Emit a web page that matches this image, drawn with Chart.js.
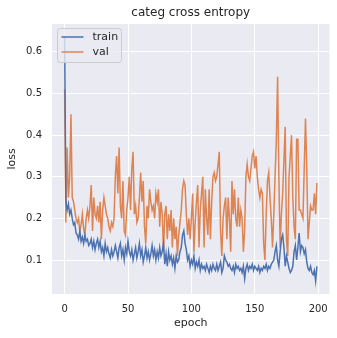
<!DOCTYPE html>
<html>
<head>
<meta charset="utf-8">
<script src="https://cdn.jsdelivr.net/npm/chart.js@4/dist/chart.umd.min.js"></script>
<style>
  body { margin: 0; background: #ffffff; }
</style>
</head>
<body>
<canvas id="lossChart" width="337" height="338"></canvas>
<script>
// epochs 0..199
var epochs = [];
for (var i = 0; i < 200; i++) epochs.push(i);

var xTicks = [0, 50, 100, 150, 200];
var yTicks = [0.1, 0.2, 0.3, 0.4, 0.5, 0.6];
var titleText = "categ cross entropy";

var train = [
  0.637, 0.24, 0.22, 0.235, 0.21, 0.22, 0.2, 0.185, 0.19, 0.165,
  0.16, 0.15, 0.17, 0.145, 0.155, 0.14, 0.16, 0.145, 0.15, 0.135,
  0.14, 0.15, 0.13, 0.145, 0.125, 0.14, 0.15, 0.13, 0.145, 0.12,
  0.13, 0.11, 0.14, 0.12, 0.13, 0.115, 0.105, 0.125, 0.11, 0.12,
  0.135, 0.12, 0.105, 0.13, 0.14, 0.11, 0.125, 0.1, 0.13, 0.115,
  0.145, 0.12, 0.11, 0.125, 0.1, 0.115, 0.13, 0.105, 0.12, 0.14,
  0.11, 0.125, 0.095, 0.11, 0.13, 0.105, 0.12, 0.1, 0.115, 0.135,
  0.11, 0.125, 0.1, 0.12, 0.105, 0.13, 0.11, 0.12, 0.14, 0.09,
  0.115, 0.085, 0.12, 0.1, 0.11, 0.09, 0.105, 0.08, 0.11, 0.095,
  0.1, 0.12, 0.13, 0.16, 0.17, 0.14, 0.125, 0.1, 0.11, 0.085,
  0.1, 0.09, 0.11, 0.08, 0.095, 0.085, 0.1, 0.075, 0.09, 0.08,
  0.085, 0.075, 0.09, 0.08, 0.07, 0.085, 0.075, 0.09, 0.08, 0.075,
  0.09, 0.075, 0.085, 0.095, 0.07, 0.08, 0.11, 0.1, 0.095, 0.085,
  0.09, 0.08, 0.075, 0.085, 0.07, 0.09, 0.08, 0.085, 0.075, 0.08,
  0.07, 0.085, 0.055, 0.08, 0.09, 0.075, 0.085, 0.08, 0.09, 0.075,
  0.085, 0.08, 0.075, 0.085, 0.07, 0.08, 0.075, 0.085, 0.08, 0.09,
  0.075, 0.085, 0.08, 0.09, 0.095, 0.1, 0.12, 0.135, 0.1, 0.085,
  0.12, 0.15, 0.16, 0.13, 0.085, 0.11, 0.095, 0.08, 0.07, 0.075,
  0.085, 0.12, 0.135, 0.1, 0.13, 0.165, 0.12, 0.135, 0.13, 0.115,
  0.125, 0.095, 0.08, 0.075, 0.085, 0.07, 0.065, 0.075, 0.05, 0.085
];

var val = [
  0.51, 0.19, 0.37, 0.25, 0.3, 0.45, 0.25, 0.24, 0.22, 0.2,
  0.19, 0.2, 0.17, 0.185, 0.21, 0.175, 0.16, 0.2, 0.22, 0.2,
  0.23, 0.28, 0.17, 0.25, 0.21, 0.2, 0.23, 0.19, 0.24, 0.15,
  0.22, 0.25, 0.23, 0.21, 0.2, 0.18, 0.17, 0.19, 0.18, 0.2,
  0.3, 0.35, 0.26, 0.37, 0.23, 0.2, 0.29, 0.17, 0.16, 0.22,
  0.25, 0.3, 0.22, 0.32, 0.36, 0.21, 0.23, 0.19, 0.2, 0.25,
  0.31, 0.24, 0.29, 0.18, 0.14, 0.23, 0.2, 0.27, 0.24, 0.22,
  0.23, 0.2, 0.26, 0.24, 0.27, 0.18, 0.24, 0.21, 0.12, 0.21,
  0.23, 0.15, 0.21, 0.17, 0.22, 0.13, 0.2, 0.15, 0.18, 0.11,
  0.16, 0.19, 0.22, 0.27, 0.29, 0.28, 0.21, 0.16, 0.2, 0.15,
  0.2, 0.26, 0.12, 0.19, 0.24, 0.28, 0.13, 0.22, 0.26, 0.3,
  0.13, 0.27, 0.2, 0.16, 0.27, 0.15, 0.24, 0.3, 0.31, 0.29,
  0.3, 0.33, 0.36, 0.17, 0.11, 0.2, 0.23, 0.25, 0.15, 0.25,
  0.2, 0.12, 0.29, 0.21, 0.27, 0.2, 0.18, 0.25, 0.18, 0.22,
  0.2, 0.12, 0.17, 0.3, 0.33, 0.3, 0.29, 0.32, 0.35, 0.36,
  0.32, 0.35, 0.3, 0.27, 0.25, 0.27, 0.26, 0.14, 0.1, 0.21,
  0.29, 0.31, 0.25, 0.2, 0.13, 0.21, 0.3, 0.39, 0.54, 0.3,
  0.13, 0.21, 0.26, 0.34, 0.42, 0.15, 0.11, 0.3, 0.35, 0.4,
  0.25, 0.18, 0.15, 0.39, 0.39, 0.22, 0.22, 0.21, 0.2, 0.32,
  0.44, 0.32, 0.15, 0.19, 0.23, 0.22, 0.22, 0.26, 0.21, 0.285
];

var textColor = "#262626";
var font = "'DejaVu Sans', sans-serif";

// grey axes background like seaborn darkgrid, title centred over the axes
var areaBg = {
  id: "areaBg",
  beforeDraw: function(chart) {
    var a = chart.chartArea;
    var ctx = chart.ctx;
    ctx.save();
    ctx.fillStyle = "#EAEAF2";
    ctx.fillRect(a.left, a.top, a.right - a.left, a.bottom - a.top);
    ctx.fillStyle = textColor;
    ctx.font = "12px " + font;
    ctx.textAlign = "center";
    ctx.textBaseline = "middle";
    ctx.fillText(titleText, (a.left + a.right) / 2, 13);
    ctx.restore();
  }
};

// legend box in the upper left corner of the axes
var innerLegend = {
  id: "innerLegend",
  afterDraw: function(chart) {
    var a = chart.chartArea;
    var ctx = chart.ctx;
    var x = a.left + 5.5, y = a.top + 4.5, w = 64, h = 34, r = 3;
    ctx.save();
    ctx.beginPath();
    ctx.moveTo(x + r, y);
    ctx.lineTo(x + w - r, y);
    ctx.quadraticCurveTo(x + w, y, x + w, y + r);
    ctx.lineTo(x + w, y + h - r);
    ctx.quadraticCurveTo(x + w, y + h, x + w - r, y + h);
    ctx.lineTo(x + r, y + h);
    ctx.quadraticCurveTo(x, y + h, x, y + h - r);
    ctx.lineTo(x, y + r);
    ctx.quadraticCurveTo(x, y, x + r, y);
    ctx.closePath();
    ctx.fillStyle = "rgba(234,234,242,0.8)";
    ctx.fill();
    ctx.strokeStyle = "#cccccc";
    ctx.lineWidth = 1;
    ctx.stroke();

    var ds = chart.data.datasets;
    ctx.font = "11px " + font;
    ctx.textBaseline = "middle";
    for (var k = 0; k < ds.length; k++) {
      var ly = y + 8.5 + k * 15;
      ctx.strokeStyle = ds[k].borderColor;
      ctx.lineWidth = 1.5;
      ctx.beginPath();
      ctx.moveTo(x + 4, ly);
      ctx.lineTo(x + 26, ly);
      ctx.stroke();
      ctx.fillStyle = textColor;
      ctx.fillText(ds[k].label, x + 35, ly);
    }
    ctx.restore();
  }
};

var ctx = document.getElementById("lossChart");
var lossChart = new Chart(ctx, {
  type: "line",
  data: {
    labels: epochs,
    datasets: [
      {
        label: "train",
        data: train,
        borderColor: "#4C72B0",
        backgroundColor: "#4C72B0",
        borderWidth: 1.5,
        pointRadius: 0,
        fill: false,
        tension: 0
      },
      {
        label: "val",
        data: val,
        borderColor: "#DD8452",
        backgroundColor: "#DD8452",
        borderWidth: 1.5,
        pointRadius: 0,
        fill: false,
        tension: 0
      }
    ]
  },
  options: {
    responsive: false,
    animation: false,
    layout: { padding: { left: 0, right: 7, top: 24, bottom: 0 } },
    plugins: {
      legend: { display: false },
      tooltip: { enabled: false },
      title: { display: false }
    },
    scales: {
      x: {
        type: "linear",
        min: -9.95,
        max: 208.95,
        afterFit: function(scale) { scale.height = 44; },
        afterBuildTicks: function(scale) {
          scale.ticks = xTicks.map(function(v) { return { value: v }; });
        },
        grid: { color: "#ffffff", lineWidth: 1, drawTicks: false },
        border: { display: false },
        ticks: {
          color: textColor,
          font: { family: font, size: 10 },
          padding: 9,
          maxRotation: 0
        },
        title: {
          display: true,
          text: "epoch",
          color: textColor,
          font: { family: font, size: 11 },
          padding: { top: 0, bottom: 8.4 }
        }
      },
      y: {
        min: 0.0184,
        max: 0.667,
        afterFit: function(scale) { scale.width = 52; },
        afterBuildTicks: function(scale) {
          scale.ticks = yTicks.map(function(v) { return { value: v }; });
        },
        grid: { color: "#ffffff", lineWidth: 1, drawTicks: false },
        border: { display: false },
        ticks: {
          color: textColor,
          font: { family: font, size: 10 },
          padding: 10
        },
        title: {
          display: true,
          text: "loss",
          color: textColor,
          font: { family: font, size: 11 },
          padding: { top: 5.4, bottom: 0 }
        }
      }
    }
  },
  plugins: [areaBg, innerLegend]
});
</script>
</body>
</html>
